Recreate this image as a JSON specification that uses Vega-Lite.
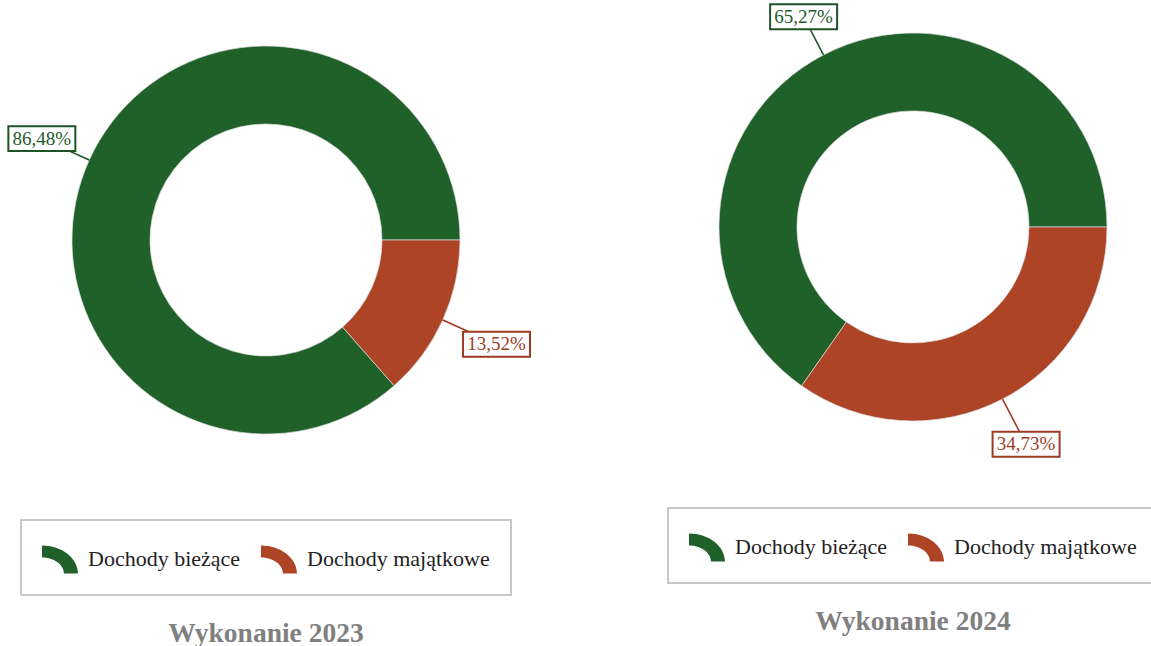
{
  "$schema": "https://vega.github.io/schema/vega-lite/v6.json",
  "padding": 0,
  "background": "white",
  "bounds": "flush",
  "spacing": 181,
  "datasets": {
    "d2023": [
      {"category": "Dochody bieżące", "value": 0.8648},
      {"category": "Dochody majątkowe", "value": 0.1352}
    ],
    "d2024": [
      {"category": "Dochody bieżące", "value": 0.6527},
      {"category": "Dochody majątkowe", "value": 0.3473}
    ]
  },
  "hconcat": [
    {
      "width": 532,
      "height": 480,
      "title": {"text": "Wykonanie 2023", "orient": "bottom", "offset": 24},
      "data": {"name": "d2023"},
      "transform": [
        {"stack": "value", "groupby": [], "sort": [{"field": "category", "order": "descending"}], "as": ["v0", "v1"]},
        {"calculate": "PI/2 + PI*(datum.v0+datum.v1)", "as": "a"},
        {"calculate": "datum.category == 'Dochody bieżące' ? 246 : 253", "as": "r"},
        {"calculate": "194*sin(datum.a)", "as": "ex"},
        {"calculate": "194*cos(datum.a)", "as": "ey"},
        {"calculate": "datum.r*sin(datum.a)", "as": "lx"},
        {"calculate": "datum.r*cos(datum.a)", "as": "ly"}
      ],
      "layer": [
        {
          "mark": {"type": "arc", "outerRadius": 194, "innerRadius": 116, "stroke": "#dddddd", "strokeWidth": 0.7},
          "encoding": {
            "theta": {"field": "v0", "type": "quantitative", "scale": {"domain": [0, 1], "range": [1.5708, 7.854]}},
            "theta2": {"field": "v1"},
            "color": {"field": "category", "type": "nominal", "scale": {"domain": ["Dochody bieżące", "Dochody majątkowe"], "range": ["#1f6129", "#ae4426"]}, "legend": {"orient": "bottom", "offset": 40, "title": null, "labelFont": "Liberation Serif", "labelLimit": 400}}
          }
        },
        {
          "mark": {"type": "rule", "strokeWidth": 1.6},
          "encoding": {
            "x": {"field": "ex", "type": "quantitative", "scale": {"domain": [-266, 266], "nice": false, "zero": false}, "axis": null},
            "y": {"field": "ey", "type": "quantitative", "scale": {"domain": [-240, 240], "nice": false, "zero": false}, "axis": null},
            "x2": {"field": "lx"},
            "y2": {"field": "ly"},
            "stroke": {"field": "category", "type": "nominal", "scale": {"domain": ["Dochody bieżące", "Dochody majątkowe"], "range": ["#1d5427", "#9e3a22"]}, "legend": null}
          }
        },
        {
          "mark": {"type": "point", "shape": "M-1,-0.373L1,-0.373L1,0.373L-1,0.373Z", "size": 4489, "filled": true, "fill": "white", "strokeWidth": 2, "opacity": 1},
          "encoding": {
            "x": {"field": "lx", "type": "quantitative"},
            "y": {"field": "ly", "type": "quantitative"},
            "stroke": {"field": "category", "type": "nominal", "legend": null}
          }
        },
        {
          "mark": {"type": "text", "font": "Liberation Serif", "fontSize": 19},
          "encoding": {
            "x": {"field": "lx", "type": "quantitative"},
            "y": {"field": "ly", "type": "quantitative"},
            "text": {"field": "value", "type": "quantitative", "format": ".2%"},
            "fill": {"field": "category", "type": "nominal", "scale": {"domain": ["Dochody bieżące", "Dochody majątkowe"], "range": ["#1f5a2b", "#a03c26"]}, "legend": null}
          }
        }
      ]
    },
    {
      "width": 400,
      "height": 454,
      "title": {"text": "Wykonanie 2024", "orient": "bottom", "offset": 24},
      "data": {"name": "d2024"},
      "transform": [
        {"stack": "value", "groupby": [], "sort": [{"field": "category", "order": "descending"}], "as": ["v0", "v1"]},
        {"calculate": "PI/2 + PI*(datum.v0+datum.v1)", "as": "a"},
        {"calculate": "datum.category == 'Dochody bieżące' ? 237 : 245", "as": "r"},
        {"calculate": "194*sin(datum.a)", "as": "ex"},
        {"calculate": "194*cos(datum.a)", "as": "ey"},
        {"calculate": "datum.r*sin(datum.a)", "as": "lx"},
        {"calculate": "datum.r*cos(datum.a)", "as": "ly"}
      ],
      "layer": [
        {
          "mark": {"type": "arc", "outerRadius": 194, "innerRadius": 116, "stroke": "#dddddd", "strokeWidth": 0.7},
          "encoding": {
            "theta": {"field": "v0", "type": "quantitative", "scale": {"domain": [0, 1], "range": [1.5708, 7.854]}},
            "theta2": {"field": "v1"},
            "color": {"field": "category", "type": "nominal", "scale": {"domain": ["Dochody bieżące", "Dochody majątkowe"], "range": ["#1f6129", "#ae4426"]}, "legend": {"orient": "bottom", "offset": 54, "title": null, "labelFont": "Liberation Serif", "labelLimit": 400}}
          }
        },
        {
          "mark": {"type": "rule", "strokeWidth": 1.6},
          "encoding": {
            "x": {"field": "ex", "type": "quantitative", "scale": {"domain": [-200, 200], "nice": false, "zero": false}, "axis": null},
            "y": {"field": "ey", "type": "quantitative", "scale": {"domain": [-227, 227], "nice": false, "zero": false}, "axis": null},
            "x2": {"field": "lx"},
            "y2": {"field": "ly"},
            "stroke": {"field": "category", "type": "nominal", "scale": {"domain": ["Dochody bieżące", "Dochody majątkowe"], "range": ["#1d5427", "#9e3a22"]}, "legend": null}
          }
        },
        {
          "mark": {"type": "point", "shape": "M-1,-0.373L1,-0.373L1,0.373L-1,0.373Z", "size": 4489, "filled": true, "fill": "white", "strokeWidth": 2, "opacity": 1},
          "encoding": {
            "x": {"field": "lx", "type": "quantitative"},
            "y": {"field": "ly", "type": "quantitative"},
            "stroke": {"field": "category", "type": "nominal", "legend": null}
          }
        },
        {
          "mark": {"type": "text", "font": "Liberation Serif", "fontSize": 19},
          "encoding": {
            "x": {"field": "lx", "type": "quantitative"},
            "y": {"field": "ly", "type": "quantitative"},
            "text": {"field": "value", "type": "quantitative", "format": ".2%"},
            "fill": {"field": "category", "type": "nominal", "scale": {"domain": ["Dochody bieżące", "Dochody majątkowe"], "range": ["#1f5a2b", "#a03c26"]}, "legend": null}
          }
        }
      ]
    }
  ],
  "resolve": {
    "scale": {"x": "independent", "y": "independent", "theta": "independent", "color": "independent", "stroke": "independent", "fill": "independent"},
    "legend": {"color": "independent"}
  },
  "config": {
    "view": {"stroke": null},
    "locale": {"number": {"decimal": ",", "thousands": "\u00a0", "grouping": [3], "currency": ["", " zł"]}},
    "legend": {
      "layout": {"bottom": {"anchor": "middle"}},
      "direction": "horizontal",
      "strokeColor": "#c8c8c8",
      "strokeWidth": 2,
      "fillColor": "white",
      "padding": 21,
      "labelFont": "Liberation Serif",
      "labelFontSize": 22,
      "labelColor": "#222222",
      "labelOffset": 10,
      "labelLimit": 400,
      "columnPadding": 20,
      "symbolType": "M-1,-0.78A2,1.56 0 0 1 1,0.78L0.22,0.78A1.22,0.89 0 0 0 -1,-0.11Z",
      "symbolSize": 1296,
      "symbolStrokeWidth": 0,
      "symbolOpacity": 1
    },
    "title": {
      "font": "Liberation Serif",
      "fontSize": 27.5,
      "fontWeight": "bold",
      "color": "#808080"
    }
  }
}
